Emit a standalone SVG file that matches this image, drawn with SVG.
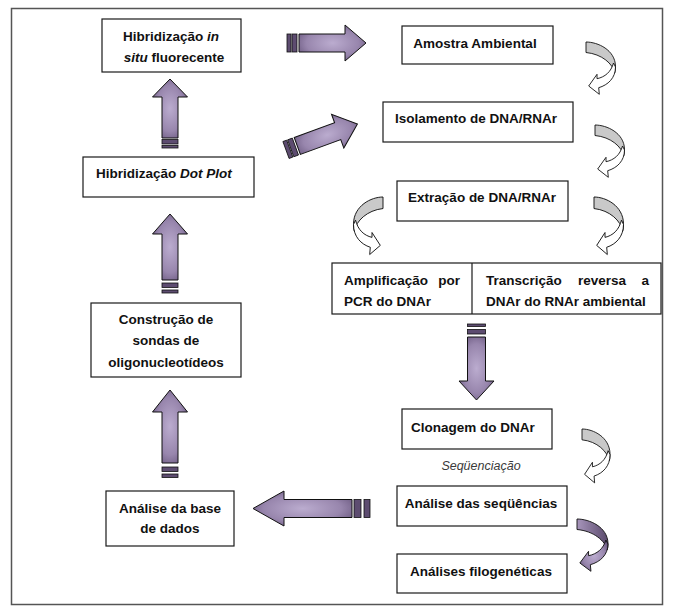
<svg xmlns="http://www.w3.org/2000/svg" xmlns:xlink="http://www.w3.org/1999/xlink" width="674" height="610" viewBox="0 0 674 610">
<style>
.box{fill:#fff;stroke:#1a1a1a;stroke-width:1.2}
.t{font-family:"Liberation Sans",Arial,sans-serif;font-weight:bold;font-size:13.5px;fill:#111}
.ti{font-family:"Liberation Sans",Arial,sans-serif;font-style:italic;font-size:12.5px;fill:#3a3a3a}
.pa{fill:url(#pg);stroke:#111;stroke-width:1}
.bar{fill:#5d4c70;stroke:#111;stroke-width:0.8}
.cg{fill:#c9c9c9;stroke:#111;stroke-width:0.9}
.cw{fill:#fff;stroke:#111;stroke-width:0.9}
.cp1{fill:url(#pg2);stroke:#111;stroke-width:0.9}
.cp2{fill:url(#pg);stroke:#111;stroke-width:0.9}
</style>
<defs>
<radialGradient id="pg" cx="50%" cy="50%" r="65%">
<stop offset="0" stop-color="#bbaccf"/>
<stop offset="0.6" stop-color="#9886ad"/>
<stop offset="1" stop-color="#5f4d74"/>
</radialGradient>
<linearGradient id="pg2" x1="0" y1="0" x2="1" y2="0">
<stop offset="0" stop-color="#a795bb"/>
<stop offset="1" stop-color="#5a4a6c"/>
</linearGradient>
<g id="curv">
<path class="cg" d="M0,0 C12,0 29,8 29.5,24 C29.6,27 29.3,29 28.7,31 C27,22 16,12 0,10.5 Z"/>
<path class="cw" d="M29.5,25 C29.5,36 22,43 12.7,45.7 L13.3,52.3 L2.7,44 L11,32.3 L11,36.7 C19,35 25,30 27.5,21 Z"/>
</g>
<g id="curvP">
<path class="cp1" d="M0,0 C12,0 29,8 29.5,24 C29.6,27 29.3,29 28.7,31 C27,22 16,12 0,10.5 Z"/>
<path class="cp2" d="M29.5,25 C29.5,36 22,43 12.7,45.7 L13.3,52.3 L2.7,44 L11,32.3 L11,36.7 C19,35 25,30 27.5,21 Z"/>
</g>
</defs>

<rect x="11.5" y="8.5" width="651" height="596" fill="#fff" stroke="#555" stroke-width="1.5"/>

<g id="connectors">
  <g id="arrow-top">
    <rect class="bar" x="287" y="34" width="4" height="18"/>
    <rect class="bar" x="292" y="34" width="5" height="18"/>
    <path class="pa" d="M299,34 L345,34 L345,25 L366,43 L345,61 L345,52 L299,52 Z"/>
  </g>
  <g id="arrow-diag" transform="translate(286,150) rotate(-20)">
    <rect class="bar" x="0" y="-9" width="4" height="18"/>
    <rect class="bar" x="5" y="-9" width="5" height="18"/>
    <path class="pa" d="M12,-9 L55,-9 L55,-18 L76,0 L55,18 L55,9 L12,9 Z"/>
  </g>
  <g id="arrow-up1">
    <path class="pa" d="M162,138 L162,97 L152.5,97 L170,79 L187.5,97 L178,97 L178,138 Z"/>
    <rect class="bar" x="162" y="139.5" width="16" height="4.5"/>
    <rect class="bar" x="162" y="145.5" width="16" height="2.5"/>
  </g>
  <g id="arrow-up2">
    <path class="pa" d="M162,280 L162,234 L152.5,234 L170,214 L187.5,234 L178,234 L178,280 Z"/>
    <rect class="bar" x="162" y="283" width="16" height="4.5"/>
    <rect class="bar" x="162" y="290" width="16" height="3"/>
  </g>
  <g id="arrow-up3">
    <path class="pa" d="M162,463 L162,412 L152.5,412 L170,390 L187.5,412 L178,412 L178,463 Z"/>
    <rect class="bar" x="162" y="467" width="16" height="4.5"/>
    <rect class="bar" x="162" y="474" width="16" height="3.5"/>
  </g>
  <g id="arrow-down">
    <rect class="bar" x="467.5" y="324" width="18" height="2.5"/>
    <rect class="bar" x="467.5" y="329.5" width="18" height="4.5"/>
    <path class="pa" d="M467.5,337 L485.5,337 L485.5,381 L494,381 L476.5,400 L459,381 L467.5,381 Z"/>
  </g>
  <g id="arrow-left">
    <path class="pa" d="M352,499.5 L284,499.5 L284,491 L253,508.5 L284,526 L284,517.5 L352,517.5 Z"/>
    <rect class="bar" x="354" y="499.5" width="7" height="18"/>
    <rect class="bar" x="364" y="499.5" width="6" height="18"/>
  </g>
  <use xlink:href="#curv" transform="translate(586,42)"/>
  <use xlink:href="#curv" transform="translate(595,125)"/>
  <use xlink:href="#curv" transform="translate(594,197) scale(1,1.1)"/>
  <use xlink:href="#curv" transform="translate(383,197) scale(-1,1.1)"/>
  <use xlink:href="#curv" transform="translate(582,429) scale(0.95,1.03)"/>
  <use xlink:href="#curvP" transform="translate(577,519) scale(1.05,1)"/>
</g>

<g id="n-fish">
  <rect class="box" x="102" y="19" width="139" height="53"/>
  <text class="t" x="171" y="41" text-anchor="middle">Hibridização <tspan font-style="italic">in</tspan></text>
  <text class="t" x="174" y="62" text-anchor="middle"><tspan font-style="italic">situ</tspan> fluorecente</text>
</g>
<g id="n-dotplot">
  <rect class="box" x="83" y="157" width="171" height="40"/>
  <text class="t" x="96" y="178">Hibridização <tspan font-style="italic">Dot Plot</tspan></text>
</g>
<g id="n-sondas">
  <rect class="box" x="91" y="303" width="150" height="74"/>
  <text class="t" x="166" y="324" text-anchor="middle">Construção de</text>
  <text class="t" x="166" y="345" text-anchor="middle">sondas de</text>
  <text class="t" x="166" y="367" text-anchor="middle">oligonucleotídeos</text>
</g>
<g id="n-base">
  <rect class="box" x="106" y="491" width="128" height="55"/>
  <text class="t" x="170" y="513" text-anchor="middle">Análise da base</text>
  <text class="t" x="170" y="533" text-anchor="middle">de dados</text>
</g>
<g id="n-amostra">
  <rect class="box" x="402" y="26" width="151" height="38"/>
  <text class="t" x="475" y="48" text-anchor="middle">Amostra Ambiental</text>
</g>
<g id="n-isolamento">
  <rect class="box" x="383" y="102" width="190" height="40"/>
  <text class="t" x="476" y="123" text-anchor="middle">Isolamento de DNA/RNAr</text>
</g>
<g id="n-extracao">
  <rect class="box" x="397" y="181" width="171" height="40"/>
  <text class="t" x="482" y="202" text-anchor="middle">Extração de DNA/RNAr</text>
</g>
<g id="n-split">
  <rect class="box" x="332" y="263" width="329" height="51"/>
  <line x1="472" y1="263" x2="472" y2="314" stroke="#1a1a1a" stroke-width="1.2"/>
  <text class="t" x="344" y="285">Amplificação</text>
  <text class="t" x="460" y="285" text-anchor="end">por</text>
  <text class="t" x="344" y="306">PCR do DNAr</text>
  <text class="t" x="486" y="285">Transcrição</text>
  <text class="t" x="602" y="285" text-anchor="middle">reversa</text>
  <text class="t" x="649" y="285" text-anchor="end">a</text>
  <text class="t" x="486" y="306">DNAr do RNAr ambiental</text>
</g>
<g id="n-clonagem">
  <rect class="box" x="402" y="409" width="150" height="40"/>
  <text class="t" x="473" y="432" text-anchor="middle">Clonagem do DNAr</text>
</g>
<text class="ti" x="481" y="470" text-anchor="middle">Seqüenciação</text>
<g id="n-sequencias">
  <rect class="box" x="397" y="486" width="170" height="40"/>
  <text class="t" x="481" y="508" text-anchor="middle">Análise das seqüências</text>
</g>
<g id="n-filo">
  <rect class="box" x="397" y="554" width="170" height="39"/>
  <text class="t" x="481" y="576" text-anchor="middle">Análises filogenéticas</text>
</g>
</svg>
